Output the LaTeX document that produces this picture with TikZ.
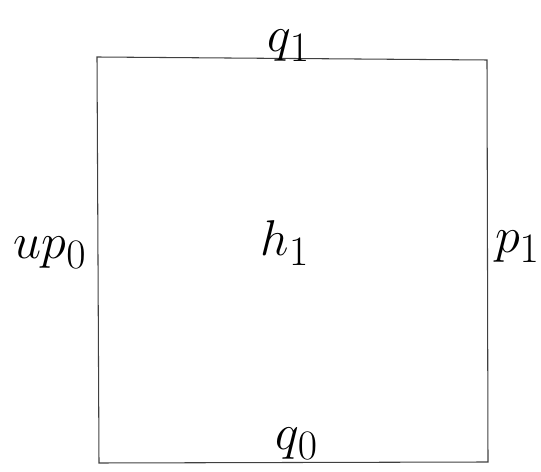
\documentclass[tikz,border=0pt]{standalone}
\usepackage{amsmath}
\usepackage{tikz}
\usetikzlibrary{positioning, calc}

\begin{document}
\begin{tikzpicture}[
    edge/.style={draw=black!75, line width=0.6pt},
    lbl/.style={font=\Huge, inner sep=1pt, scale=1.15}
]
\useasboundingbox (0,0) rectangle (10.82,9.44);

\coordinate (sw) at (1.98,0.18);
\coordinate (se) at (9.76,0.20);
\coordinate (ne) at (9.74,8.24);
\coordinate (nw) at (1.94,8.30);

\draw[edge] (sw) -- (se) -- (ne) -- (nw) -- cycle;

\node[lbl] (top) at (5.78,8.52) {$q_1$};
\node[lbl] (bot) at (5.94,0.56) {$q_0$};
\node[lbl] (left) at (1.0,4.38) {$up_0$};
\node[lbl] (right) at (10.35,4.50) {$p_1$};
\node[lbl] (mid) at (5.70,4.58) {$h_1$};

\end{tikzpicture}
\end{document}
